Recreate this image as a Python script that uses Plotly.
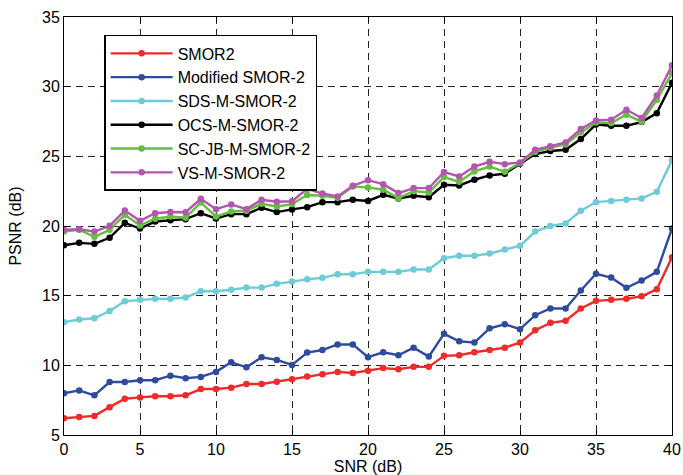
import plotly.graph_objects as go

snr = list(range(0, 41))

smor2 = [6.2, 6.3, 6.37, 7.0, 7.6, 7.7, 7.78, 7.78, 7.85, 8.3, 8.3, 8.4, 8.66, 8.66, 8.83, 9.0,
         9.2, 9.36, 9.53, 9.45, 9.62, 9.8, 9.72, 9.89, 9.89, 10.68, 10.72, 10.94, 11.1, 11.27,
         11.63, 12.52, 13.05, 13.2, 14.08, 14.63, 14.7, 14.77, 14.96, 15.46, 17.76]
mod_smor2 = [8.0, 8.2, 7.85, 8.8, 8.8, 8.93, 8.93, 9.26, 9.07, 9.17, 9.53, 10.22, 9.86, 10.58,
             10.39, 10.03, 10.92, 11.1, 11.5, 11.5, 10.58, 10.94, 10.72, 11.27, 10.63, 12.26,
             11.73, 11.63, 12.66, 12.95, 12.59, 13.6, 14.08, 14.08, 15.37, 16.57, 16.3, 15.56,
             16.09, 16.71, 19.82]
sds = [13.1, 13.29, 13.38, 13.9, 14.6, 14.7, 14.77, 14.77, 14.87, 15.32, 15.32, 15.42, 15.58,
       15.58, 15.85, 16.01, 16.18, 16.28, 16.54, 16.54, 16.71, 16.71, 16.71, 16.88, 16.88,
       17.69, 17.86, 17.86, 18.03, 18.31, 18.58, 19.6, 20.0, 20.18, 21.09, 21.71, 21.8, 21.88,
       21.98, 22.45, 24.73]
ocs = [18.62, 18.79, 18.72, 19.15, 20.23, 19.82, 20.32, 20.42, 20.49, 20.92, 20.54, 20.85,
       20.85, 21.31, 21.0, 21.19, 21.35, 21.71, 21.71, 21.88, 21.8, 22.24, 21.98, 22.17, 22.07,
       22.96, 22.91, 23.32, 23.63, 23.75, 24.47, 25.16, 25.38, 25.47, 26.24, 27.29, 27.2, 27.2,
       27.46, 28.1, 30.28]
scjb = [19.6, 19.73, 19.22, 19.73, 20.8, 20.04, 20.52, 20.68, 20.59, 21.69, 20.68, 21.04,
        21.09, 21.59, 21.4, 21.57, 22.22, 22.17, 22.02, 22.84, 22.77, 22.6, 22.0, 22.5, 22.41,
        23.51, 23.17, 23.92, 24.27, 23.89, 24.51, 25.33, 25.62, 25.85, 26.72, 27.43, 27.39,
        27.99, 27.48, 29.06, 30.98]
vs = [19.73, 19.77, 19.6, 20.01, 21.11, 20.37, 20.92, 21.01, 20.99, 21.95, 21.21, 21.55,
      21.21, 21.88, 21.74, 21.78, 22.67, 22.33, 22.12, 22.89, 23.29, 23.0, 22.36, 22.72, 22.72,
      23.87, 23.56, 24.27, 24.61, 24.44, 24.56, 25.47, 25.73, 26.0, 26.96, 27.58, 27.63, 28.34,
      27.75, 29.37, 31.53]

names = ["SMOR2", "Modified SMOR-2", "SDS-M-SMOR-2", "OCS-M-SMOR-2", "SC-JB-M-SMOR-2", "VS-M-SMOR-2"]
series = [smor2, mod_smor2, sds, ocs, scjb, vs]
colors = ["#EE2A2A", "#2E4C9E", "#6ECCD8", "#000000", "#66BE3E", "#B455B0"]

FONT = "Liberation Sans, Arial"

fig = go.Figure()
for name, ys, c in zip(names, series, colors):
    fig.add_trace(go.Scatter(
        x=snr, y=ys, name=name, mode="lines+markers",
        line=dict(color=c, width=2.4),
        marker=dict(color=c, size=6.5, symbol="circle"),
    ))

axis_common = dict(
    showline=True, linecolor="black", linewidth=1, mirror="ticks",
    ticks="inside", ticklen=5, tickcolor="black",
    showgrid=True, gridcolor="#222222", griddash="7px,5px", gridwidth=1,
    zeroline=False, automargin=False,
    tickfont=dict(family=FONT, size=16, color="black"),
)

fig.update_xaxes(range=[0, 40], dtick=5, tick0=0,
                 title=dict(text="SNR (dB)", font=dict(family=FONT, size=16, color="black"), standoff=12),
                 **axis_common)
fig.update_yaxes(range=[5, 35], dtick=5, tick0=5,
                 title=dict(text="PSNR (dB)", font=dict(family=FONT, size=16, color="black"), standoff=16),
                 **axis_common)

fig.update_layout(
    width=683, height=475,
    margin=dict(l=64, r=11, t=17, b=40),
    paper_bgcolor="white", plot_bgcolor="white",
    showlegend=True,
    legend=dict(
        x=0.066, y=0.957, xanchor="left", yanchor="top",
        bgcolor="white", bordercolor="black", borderwidth=1.5,
        font=dict(family=FONT, size=16, color="black"),
        tracegroupgap=0, itemwidth=62,
    ),
)

fig.write_html("out.html")
